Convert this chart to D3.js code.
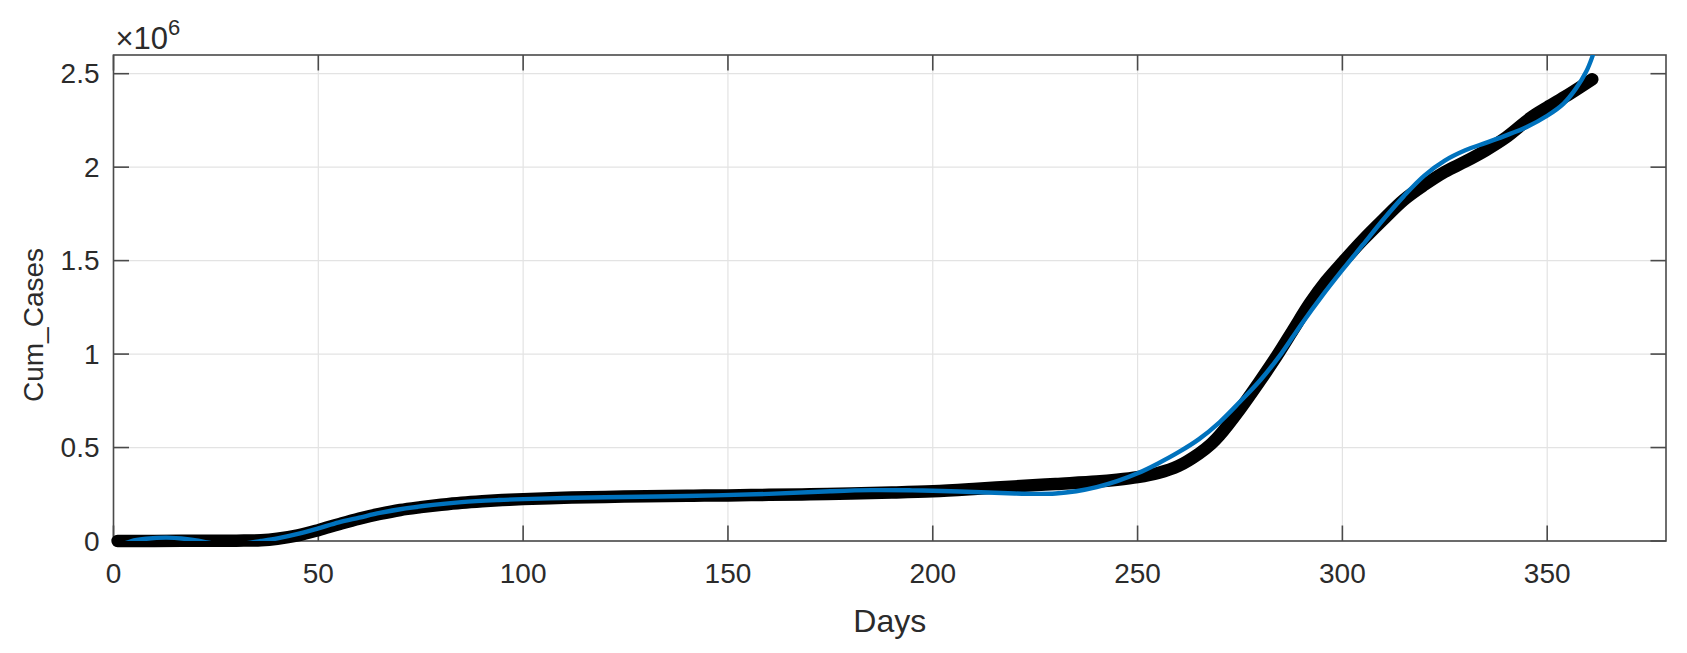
<!DOCTYPE html>
<html>
<head>
<meta charset="utf-8">
<script src="https://cdn.jsdelivr.net/npm/d3@7"></script>
<style>
  html, body { margin: 0; padding: 0; background: #ffffff; }
  svg { display: block; }
  text { font-family: "Liberation Sans", Arial, Helvetica, sans-serif; fill: #2b2b2b; }
</style>
</head>
<body>
<svg id="chart" width="1687" height="653"></svg>
<script>
// ---- data ----
const obsDays = [1, 10, 20, 30, 36, 40, 45, 50, 55, 60, 65, 70, 75, 80, 85, 90, 95, 100, 110, 120, 130, 140, 150, 160, 170, 180, 190, 200, 210, 220, 230, 240, 245, 250, 255, 260, 265, 268, 270, 275, 280, 284, 288, 292, 296, 300, 305, 310, 315, 320, 325, 330, 335, 340, 346, 350, 355, 361];
const obsCases = [0, 500, 1000, 2000, 4000, 12000, 30000, 58000, 90000, 120000, 145000, 166000, 181000, 194000, 205000, 213000, 219000, 224000, 231000, 236000, 239000, 242000, 244000, 247000, 250000, 254000, 259000, 266000, 278000, 292000, 305000, 318000, 328000, 342000, 364000, 402000, 468000, 520000, 565000, 705000, 860000, 990000, 1130000, 1270000, 1390000, 1490000, 1610000, 1720000, 1825000, 1905000, 1975000, 2030000, 2090000, 2160000, 2265000, 2320000, 2385000, 2470000];

const fitDays = [0, 4.4, 8, 13, 18, 21, 25, 30, 36, 40, 45, 50, 55, 60, 65, 70, 78, 85, 94, 100, 110, 120, 140, 160, 175, 185, 195, 200, 210, 220, 225, 230, 235, 240, 245, 250, 255, 260, 265, 270, 275, 280, 285, 290, 295, 300, 305, 310, 315, 320, 325, 330, 335, 340, 345, 350, 354, 357, 359.5, 361, 362.5];
const fitCases = [-40000, 0, 12000, 18000, 10000, 0, -15000, -18000, 0, 14000, 38000, 68000, 100000, 125000, 150000, 170000, 193000, 208000, 219000, 224000, 230000, 234000, 241000, 252000, 266000, 272000, 271000, 269000, 262000, 254000, 252000, 254000, 266000, 288000, 320000, 362000, 415000, 475000, 545000, 635000, 745000, 861000, 1000000, 1160000, 1310000, 1450000, 1585000, 1720000, 1845000, 1955000, 2035000, 2090000, 2130000, 2170000, 2215000, 2275000, 2340000, 2420000, 2510000, 2590000, 2700000];

const xTicks = [0, 50, 100, 150, 200, 250, 300, 350];
const yTicks = [0, 500000, 1000000, 1500000, 2000000, 2500000];
const yTickLabels = ["0", "0.5", "1", "1.5", "2", "2.5"];
const xLabel = "Days";
const yLabel = "Cum_Cases";
const xDomain = [0, 379];
const yDomain = [0, 2600000];

// ---- layout ----
const L = 113.5, R = 1666, T = 55, B = 541;
const tickLen = 15.5;
const svg = d3.select("#chart");
const x = d3.scaleLinear().domain(xDomain).range([L, R]);
const y = d3.scaleLinear().domain(yDomain).range([B, T]);

svg.append("defs").append("clipPath").attr("id", "plotclip")
  .append("rect").attr("x", L).attr("y", T).attr("width", R - L).attr("height", B - T);

// grid
const grid = svg.append("g");
grid.selectAll("line.gx").data(xTicks).join("line")
  .attr("x1", d => x(d)).attr("x2", d => x(d)).attr("y1", T).attr("y2", B)
  .attr("stroke", "#e3e3e3").attr("stroke-width", 1.2);
grid.selectAll("line.gy").data(yTicks).join("line")
  .attr("x1", L).attr("x2", R).attr("y1", d => y(d)).attr("y2", d => y(d))
  .attr("stroke", "#e3e3e3").attr("stroke-width", 1.2);

// axes box + ticks
const ax = svg.append("g").attr("stroke", "#4a4a4a").attr("stroke-width", 1.6).attr("fill", "none");
ax.append("rect").attr("x", L).attr("y", T).attr("width", R - L).attr("height", B - T);
xTicks.forEach(t => {
  ax.append("line").attr("x1", x(t)).attr("x2", x(t)).attr("y1", B).attr("y2", B - tickLen);
  ax.append("line").attr("x1", x(t)).attr("x2", x(t)).attr("y1", T).attr("y2", T + tickLen);
});
yTicks.forEach(t => {
  ax.append("line").attr("x1", L).attr("x2", L + tickLen).attr("y1", y(t)).attr("y2", y(t));
  ax.append("line").attr("x1", R).attr("x2", R - tickLen).attr("y1", y(t)).attr("y2", y(t));
});

// observed data (dense black markers -> thick band)
const obs = obsDays.map((d, i) => [d, obsCases[i]]);
svg.append("path").datum(obs)
  .attr("d", d3.line().x(d => x(d[0])).y(d => y(d[1])).curve(d3.curveCatmullRom.alpha(0.5)))
  .attr("fill", "none").attr("stroke", "#000").attr("stroke-width", 12.5)
  .attr("stroke-linecap", "round").attr("stroke-linejoin", "round");

// fitted curve
const fit = fitDays.map((d, i) => [d, fitCases[i]]);
svg.append("path").datum(fit).attr("clip-path", "url(#plotclip)")
  .attr("d", d3.line().x(d => x(d[0])).y(d => y(d[1])).curve(d3.curveCatmullRom.alpha(0.5)))
  .attr("fill", "none").attr("stroke", "#0072BD").attr("stroke-width", 4.4)
  .attr("stroke-linecap", "round");

// tick labels
const fs = 28;
svg.selectAll("text.xt").data(xTicks).join("text")
  .attr("x", d => x(d)).attr("y", 573).attr("text-anchor", "middle")
  .attr("dominant-baseline", "central").attr("font-size", fs).text(d => d);
svg.selectAll("text.yt").data(yTicks).join("text")
  .attr("x", L - 14).attr("y", d => y(d)).attr("text-anchor", "end")
  .attr("dominant-baseline", "central").attr("font-size", fs).text((d, i) => yTickLabels[i]);

// exponent
const ex = svg.append("text").attr("x", L + 2).attr("y", 49).attr("font-size", 31);
ex.append("tspan").text("\u00d710");
ex.append("tspan").attr("font-size", 22).attr("dy", -14).text("6");

// axis labels
svg.append("text").attr("x", (L + R) / 2).attr("y", 621).attr("text-anchor", "middle")
  .attr("dominant-baseline", "central").attr("font-size", 32).text(xLabel);
svg.append("text").attr("transform", `translate(33,325) rotate(-90)`)
  .attr("text-anchor", "middle").attr("dominant-baseline", "central")
  .attr("font-size", 28).text(yLabel);
</script>
</body>
</html>
